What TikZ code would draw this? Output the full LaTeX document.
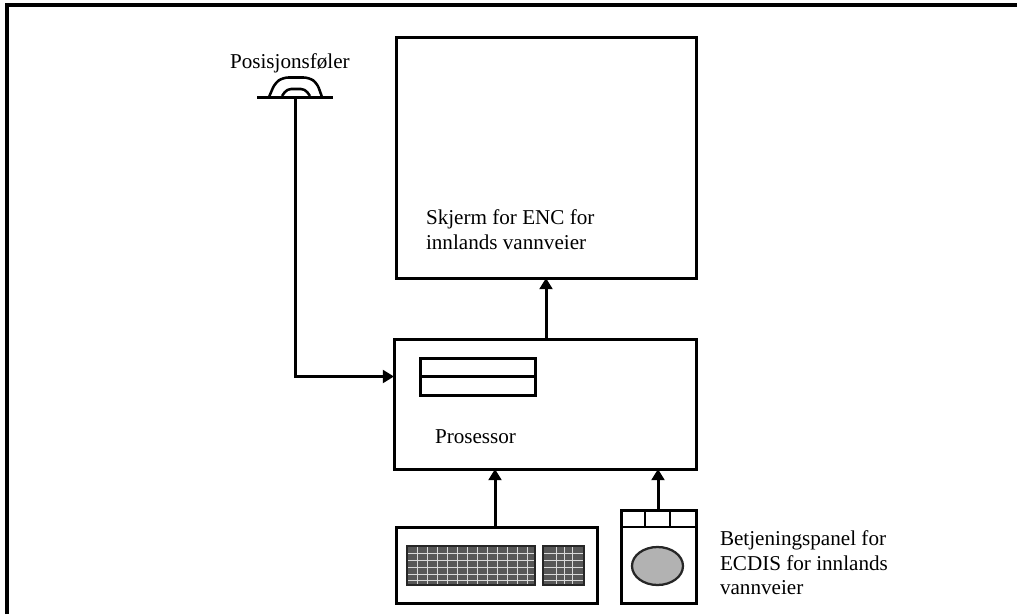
\documentclass[tikz,border=0pt]{standalone}
\usepackage{fontspec}
\setmainfont{Liberation Serif}
\usetikzlibrary{arrows.meta,shapes.geometric}
\definecolor{keydark}{gray}{0.34}
\definecolor{balldark}{gray}{0.70}
\tikzset{
  x=0.75pt,y=-0.75pt,
  unitbox/.style={draw=black,line width=2.25pt,inner sep=0pt,outer sep=0pt,anchor=north west},
  wire/.style={draw=black,line width=2.25pt},
  flow/.style={wire,-{Triangle[length=8.4pt,width=9.6pt]}},
  thin line/.style={draw=black,line width=1.9pt},
  keyblock/.style={draw=black!85,fill=keydark,line width=1.6pt,inner sep=0pt,outer sep=0pt,anchor=north west},
  keygrid/.style={draw=white!70!gray,line width=0.6pt},
  lbl/.style={font=\fontsize{15.85pt}{18.6pt}\selectfont,align=left,anchor=north west,inner sep=0pt,outer sep=0pt},
}
\begin{document}
\begin{tikzpicture}
\useasboundingbox (0,0) rectangle (1017,614);
\fill[white] (0,0) rectangle (1017,614);
% frame: top and left edges
\draw[black,line width=2.6pt] (7,614) -- (7,5) -- (1017,5);
\node[unitbox,minimum width=300*0.75pt,minimum height=241*0.75pt] (screen) at (396,37) {};
\node[unitbox,minimum width=302*0.75pt,minimum height=130*0.75pt] (proc) at (394,339) {};
\node[unitbox,minimum width=115*0.75pt,minimum height=37*0.75pt] (slot) at (420,358) {};
\draw[thin line] (slot.west) -- (slot.east);
\node[unitbox,minimum width=201*0.75pt,minimum height=76*0.75pt] (kbd) at (396,527) {};
\node[keyblock,minimum width=128*0.75pt,minimum height=39*0.75pt] (keys) at (407,546) {};
\node[keyblock,minimum width=41*0.75pt,minimum height=39*0.75pt] (numpad) at (543,546) {};
\foreach \yy in {553,560,567,574,580} {
  \draw[keygrid] (408,\yy) -- (534,\yy);
  \draw[keygrid] (544,\yy) -- (583,\yy);
}
\foreach \xx in {417,427,437,447,457,467,477,487,497,507,517,527} \draw[keygrid,line width=0.4pt] (\xx,547) -- (\xx,584);
\foreach \xx in {556,564,572} \draw[keygrid] (\xx,547) -- (\xx,584);
\node[unitbox,minimum width=75*0.75pt,minimum height=93*0.75pt] (panel) at (621,510) {};
\draw[thin line] (621,527) -- (696,527);
\draw[thin line] (645,510) -- (645,527);
\draw[thin line] (670,510) -- (670,527);
\node[draw=black!85,fill=balldark,line width=1.7pt,ellipse,inner sep=0pt,outer sep=0pt,minimum width=51*0.75pt,minimum height=38*0.75pt] (ball) at (657.5,566) {};
% sensor
\coordinate (sl) at (257,97);
\coordinate (sr) at (333,97);
\coordinate (sensor) at (295,97);
\draw[wire] (sl) -- (sr);
\draw[thin line,rounded corners=4pt] (269,97) -- (275,83) -- (283,77.5) -- (309,77.5) -- (317,83) -- (322,97);
\draw[thin line,rounded corners=3pt] (282,96) -- (287,89) -- (305,89) -- (310,96);
% connectors
\draw[flow] (sensor) |- (proc.west |- slot.west);
\draw[flow] (proc.north -| 546,339) -- (546,278);
\draw[flow] (kbd.north -| 495,527) -- (495,469);
\draw[flow] (panel.north -| 658,510) -- (658,469);
% text
\node[lbl] (t1) at (230,53.5) {Posisjonsføler};
\node[lbl] (t2) at (426,209.5) {Skjerm for ENC for\\innlands vannveier};
\node[lbl] (t3) at (435,430) {Prosessor};
\node[lbl] (t4) at (720,530.5) {Betjeningspanel for\\ECDIS for innlands\\vannveier};
\end{tikzpicture}
\end{document}
